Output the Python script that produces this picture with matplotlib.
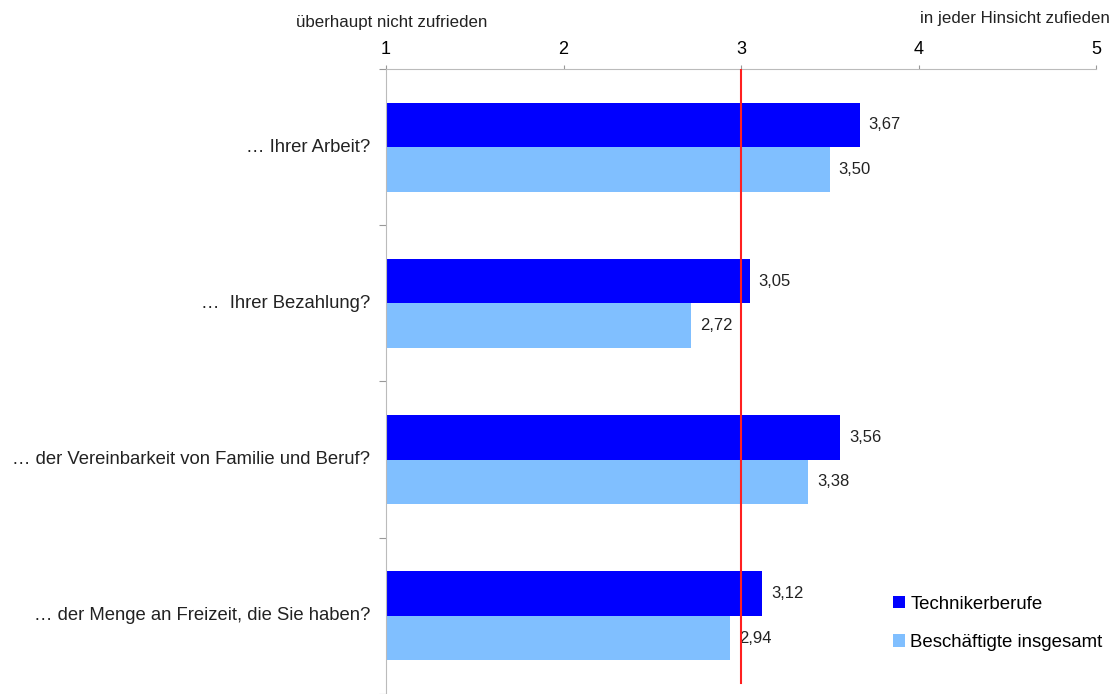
import numpy as np
import matplotlib.pyplot as plt

plt.rcParams['font.family'] = ['Liberation Sans', 'DejaVu Sans']

categories = ["… Ihrer Arbeit?", "…  Ihrer Bezahlung?",
              "… der Vereinbarkeit von Familie und Beruf?",
              "… der Menge an Freizeit, die Sie haben?"]
techniker = [3.67, 3.05, 3.56, 3.12]
insgesamt = [3.50, 2.72, 3.38, 2.94]
series_names = ["Technikerberufe", "Beschäftigte insgesamt"]
tick_values = [1, 2, 3, 4, 5]

fig = plt.figure(figsize=(11.17, 6.94), dpi=100)
ax = fig.add_axes([0.3456, 0.0, 0.6356, 0.9006])

y = np.arange(len(categories))
h = 0.285
ax.barh(y - h / 2, [v - 1 for v in techniker], left=1, height=h,
        color="#0000ff", label=series_names[0])
ax.barh(y + h / 2, [v - 1 for v in insgesamt], left=1, height=h,
        color="#80bfff", label=series_names[1])

for i in range(len(categories)):
    ax.text(techniker[i] + 0.05, y[i] - h / 2, f"{techniker[i]:.2f}".replace(".", ","),
            va="center", ha="left", fontsize=12, color="#222222")
    ax.text(insgesamt[i] + 0.05, y[i] + h / 2, f"{insgesamt[i]:.2f}".replace(".", ","),
            va="center", ha="left", fontsize=12, color="#222222")

ax.axvline(3, ymin=0.018, ymax=1, color="#ff2020", lw=1.5, zorder=5)

ax.set_xlim(1, 5)
ax.set_ylim(len(categories) - 0.5, -0.5)
ax.xaxis.tick_top()
ax.set_xticks(tick_values)
ax.set_xticklabels([str(t) for t in tick_values], fontsize=13)
ax.tick_params(axis="x", length=3, color="#999999", pad=5)

ax.set_yticks(np.arange(len(categories) + 1) - 0.5, minor=False)
ax.set_yticklabels([])
ax.tick_params(axis="y", length=5, color="#999999")
for i, c in enumerate(categories):
    ax.text(-0.022, i, c, transform=ax.get_yaxis_transform(), ha="right",
            va="center", fontsize=13.3, color="#222222")

for s in ["right", "bottom"]:
    ax.spines[s].set_visible(False)
ax.spines["top"].set_color("#bbbbbb")
ax.spines["left"].set_color("#bbbbbb")

fig.text(392 / 1117, 1 - 22 / 694, "überhaupt nicht zufrieden", ha="center",
         va="center", fontsize=12.2, color="#222222")
fig.text(1110 / 1117, 1 - 18 / 694, "in jeder Hinsicht zufieden", ha="right",
         va="center", fontsize=12.2, color="#222222")

ax.legend(loc="lower left", bbox_to_anchor=(0.69, 0.042), frameon=False,
          fontsize=13.4, handlelength=0.65, handleheight=0.65, handletextpad=0.3,
          labelspacing=1.15)

fig.savefig("out.png", dpi=100)
